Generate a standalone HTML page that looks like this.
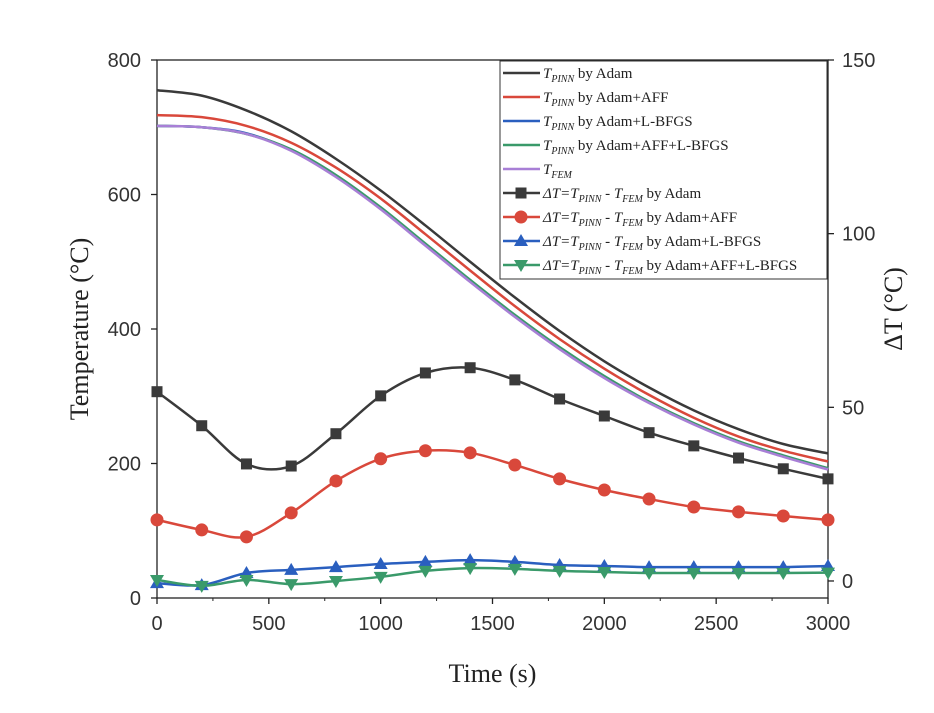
<!DOCTYPE html>
<html><head><meta charset="utf-8"><style>
body{margin:0;background:#fff;}
svg{font-family:"Liberation Serif",serif;}
.tk{font-family:"Liberation Sans",sans-serif;}
</style></head><body>
<svg id="c" width="934" height="708" viewBox="0 0 934 708"></svg>
<script>
const times=[0,200,400,600,800,1000,1200,1400,1600,1800,2000,2200,2400,2600,2800,3000];
const tAdam=[755,747,725,694,653,606,554,500,447,397,352,313,279,251,229,215];
const tAdamFF=[718,715,702,677,640,594,541,487,434,385,341,302,268,240,219,203];
const tAdamLB=[702,700,691,666,627,579,525,471,419,371,328,291,259,232,211,192];
const tAdamFFLB=[702,700,690,667,629,581,527,473,421,373,330,292,260,233,212,193];
const tFEM=[702,700,690,665,626,578,524,470,418,370,327,290,258,231,210,191];
const dAdam=[54.5,44.7,33.7,33.1,42.4,53.3,59.9,61.4,57.9,52.4,47.5,42.7,38.9,35.4,32.3,29.4];
const dAdamFF=[17.6,14.7,12.7,19.6,28.8,35.2,37.5,36.9,33.4,29.4,26.2,23.6,21.3,19.9,18.7,17.6];
const dAdamLB=[-0.6,-1.2,2.3,3.2,4.0,4.9,5.5,6.0,5.5,4.6,4.3,4.0,4.0,4.0,4.0,4.3];
const dAdamFFLB=[0.3,-1.4,0.3,-0.9,0.0,1.2,2.9,3.7,3.5,2.9,2.6,2.3,2.3,2.3,2.3,2.4];
const xTicks=[0,500,1000,1500,2000,2500,3000];
const yTicks=[0,200,400,600,800];
const y2Ticks=[0,50,100,150];

const L=157,R=828,T=60,B=598;
const X=v=>L+(v/3000)*(R-L);
const Y=v=>B-(v/800)*(B-T);
const Y2=v=>B-((v+4.9)/154.9)*(B-T);
const svg=document.getElementById('c');
const NS='http://www.w3.org/2000/svg';
function mk(tag,attrs,parent){const e=document.createElementNS(NS,tag);for(const k in attrs)e.setAttribute(k,attrs[k]);(parent||svg).appendChild(e);return e;}
function smooth(pts){let d=`M${pts[0][0]},${pts[0][1]}`;for(let i=0;i<pts.length-1;i++){const p0=pts[i-1]||pts[i],p1=pts[i],p2=pts[i+1],p3=pts[i+2]||p2;const c1=[p1[0]+(p2[0]-p0[0])/6,p1[1]+(p2[1]-p0[1])/6],c2=[p2[0]-(p3[0]-p1[0])/6,p2[1]-(p3[1]-p1[1])/6];d+=`C${c1[0]},${c1[1]} ${c2[0]},${c2[1]} ${p2[0]},${p2[1]}`;}return d;}

let ax=mk('rect',{x:L,y:T,width:R-L,height:B-T,fill:'none',stroke:'#222','stroke-width':1.3});


xTicks.forEach(v=>{const x=X(v);
 let t=mk('line',{x1:x,y1:B,x2:x,y2:B+6,stroke:'#222','stroke-width':1.3});
 let tx=mk('text',{x:x,y:B+32,'text-anchor':'middle','font-size':20,fill:'#333',class:'tk'});tx.textContent=v;});
for(let v=250;v<3000;v+=500){let t=mk('line',{x1:X(v),y1:B,x2:X(v),y2:B+3,stroke:'#222','stroke-width':1});}
yTicks.forEach(v=>{const y=Y(v);
 let t=mk('line',{x1:L-6,y1:y,x2:L,y2:y,stroke:'#222','stroke-width':1.3});
 let tx=mk('text',{x:L-16,y:y+7,'text-anchor':'end','font-size':20,fill:'#333',class:'tk'});tx.textContent=v;});
y2Ticks.forEach(v=>{const y=Y2(v);
 let t=mk('line',{x1:R,y1:y,x2:R+6,y2:y,stroke:'#222','stroke-width':1.3});
 let tx=mk('text',{x:R+14,y:y+7,'font-size':20,fill:'#333',class:'tk'});tx.textContent=v;});
let xt=mk('text',{x:(L+R)/2,y:682,'text-anchor':'middle','font-size':26,fill:'#222'});xt.textContent='Time (s)';
let yt=mk('text',{x:88,y:(T+B)/2,'text-anchor':'middle','font-size':26,fill:'#222',transform:`rotate(-90 88 ${(T+B)/2})`});yt.textContent='Temperature (°C)';
let y2t=mk('text',{x:902,y:(T+B)/2-20,'text-anchor':'middle','font-size':26,fill:'#222',transform:`rotate(-90 902 ${(T+B)/2-20})`});y2t.textContent='ΔT (°C)';

const tSeries=[[tAdam,'#3a3a3a','t-adam'],[tAdamFF,'#d9483b','t-adam-ff'],[tAdamLB,'#2a5fbf','t-adam-lbfgs'],[tAdamFFLB,'#3a9a6a','t-adam-ff-lbfgs'],[tFEM,'#a87fd6','t-fem']];
tSeries.forEach(([d,c,n])=>{let p=mk('path',{d:smooth(d.map((v,i)=>[X(times[i]),Y(v)])),fill:'none',stroke:c,'stroke-width':2.5});});

function marker(type,x,y,c,g){let e;
 if(type==='sq')e=mk('rect',{x:x-5.5,y:y-5.5,width:11,height:11,fill:c},g);
 else if(type==='ci')e=mk('circle',{cx:x,cy:y,r:6.5,fill:c},g);
 else if(type==='up')e=mk('polygon',{points:`${x},${y-7} ${x-7},${y+5} ${x+7},${y+5}`,fill:c},g);
 else e=mk('polygon',{points:`${x},${y+7} ${x-7},${y-5} ${x+7},${y-5}`,fill:c},g);
 return e;}
const dSeries=[[dAdam,'#3a3a3a','sq','delta-adam'],[dAdamFF,'#d9483b','ci','delta-adam-ff'],[dAdamLB,'#2a5fbf','up','delta-adam-lbfgs'],[dAdamFFLB,'#3a9a6a','dn','delta-adam-ff-lbfgs']];
dSeries.forEach(([d,c,m,n])=>{
 let p=mk('path',{d:smooth(d.map((v,i)=>[X(times[i]),Y2(v)])),fill:'none',stroke:c,'stroke-width':2.5});
 d.forEach((v,i)=>{let e=marker(m,X(times[i]),Y2(v),c);});});

const lg=mk('g',{});
mk('rect',{x:500,y:61,width:327,height:218,fill:'#fff',stroke:'#333','stroke-width':1},lg);
const items=[['#3a3a3a',null,'<tspan font-style="italic">T</tspan><tspan font-style="italic" font-size="10" dy="4">PINN</tspan><tspan dy="-4">  by Adam</tspan>'],
['#d9483b',null,'<tspan font-style="italic">T</tspan><tspan font-style="italic" font-size="10" dy="4">PINN</tspan><tspan dy="-4">  by Adam+AFF</tspan>'],
['#2a5fbf',null,'<tspan font-style="italic">T</tspan><tspan font-style="italic" font-size="10" dy="4">PINN</tspan><tspan dy="-4">  by  Adam+L-BFGS</tspan>'],
['#3a9a6a',null,'<tspan font-style="italic">T</tspan><tspan font-style="italic" font-size="10" dy="4">PINN</tspan><tspan dy="-4">  by Adam+AFF+L-BFGS</tspan>'],
['#a87fd6',null,'<tspan font-style="italic">T</tspan><tspan font-style="italic" font-size="10" dy="4">FEM</tspan>'],
['#3a3a3a','sq','<tspan font-style="italic">ΔT=T</tspan><tspan font-style="italic" font-size="10" dy="4">PINN</tspan><tspan dy="-4"> - </tspan><tspan font-style="italic">T</tspan><tspan font-style="italic" font-size="10" dy="4">FEM</tspan><tspan dy="-4">  by Adam</tspan>'],
['#d9483b','ci','<tspan font-style="italic">ΔT=T</tspan><tspan font-style="italic" font-size="10" dy="4">PINN</tspan><tspan dy="-4"> - </tspan><tspan font-style="italic">T</tspan><tspan font-style="italic" font-size="10" dy="4">FEM</tspan><tspan dy="-4">  by Adam+AFF</tspan>'],
['#2a5fbf','up','<tspan font-style="italic">ΔT=T</tspan><tspan font-style="italic" font-size="10" dy="4">PINN</tspan><tspan dy="-4"> - </tspan><tspan font-style="italic">T</tspan><tspan font-style="italic" font-size="10" dy="4">FEM</tspan><tspan dy="-4">  by Adam+L-BFGS</tspan>'],
['#3a9a6a','dn','<tspan font-style="italic">ΔT=T</tspan><tspan font-style="italic" font-size="10" dy="4">PINN</tspan><tspan dy="-4"> - </tspan><tspan font-style="italic">T</tspan><tspan font-style="italic" font-size="10" dy="4">FEM</tspan><tspan dy="-4">  by Adam+AFF+L-BFGS</tspan>']];
items.forEach(([c,m,html],i)=>{const y=73+i*24;
 mk('line',{x1:503,y1:y,x2:540,y2:y,stroke:c,'stroke-width':2.5},lg);
 if(m)marker(m,521,y,c,lg);
 const t=mk('text',{x:543,y:y+5,'font-size':15,fill:'#222'},lg);t.innerHTML=html;
 
 });
</script>
</body></html>
